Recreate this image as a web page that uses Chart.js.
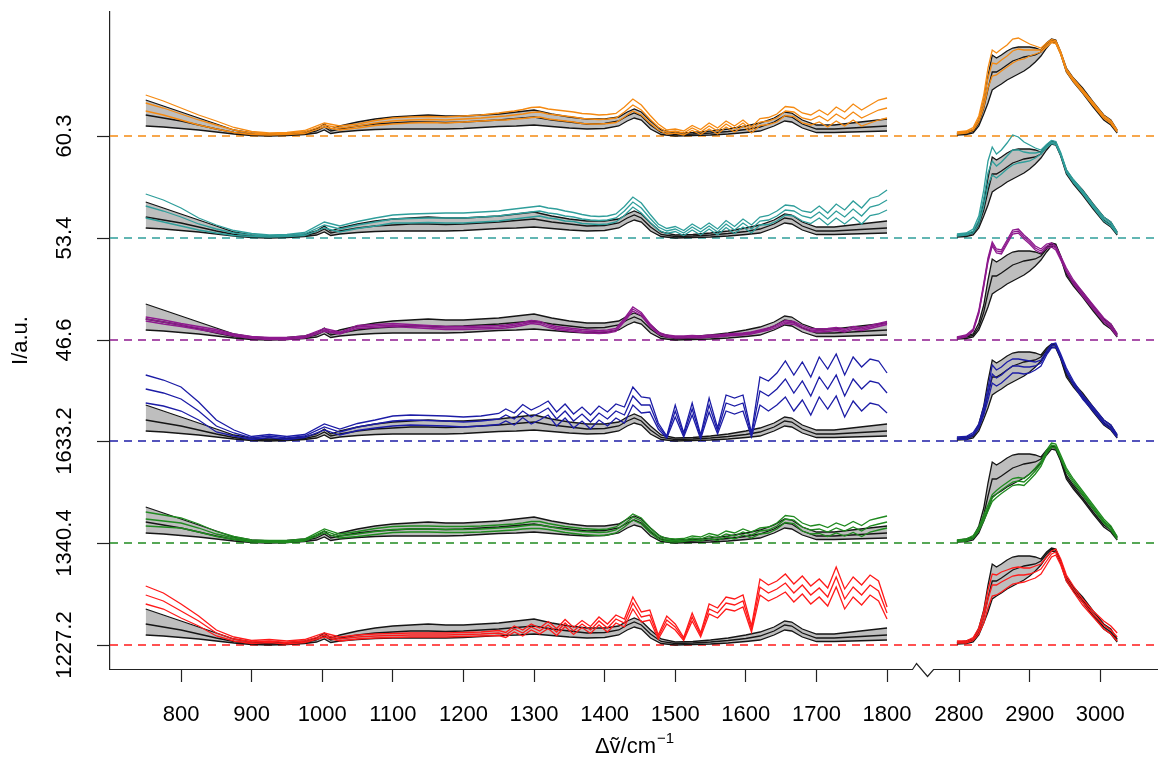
<!DOCTYPE html>
<html>
<head>
<meta charset="utf-8">
<script src="https://cdn.jsdelivr.net/npm/chart.js@4.4.0/dist/chart.umd.min.js"></script>
<style>
  html, body { margin: 0; padding: 0; background: #fff; }
  canvas { display: block; }
</style>
</head>
<body>
<canvas id="spectra" width="1162" height="763"></canvas>
<script>
// Wavenumber grids (cm^-1)
const xBandL = [750, 775, 800, 825, 850, 875, 900, 925, 950, 975, 992, 1003, 1012,
  1025, 1050, 1075, 1100, 1125, 1150, 1175, 1200, 1225, 1250, 1275, 1300, 1325, 1350, 1375, 1400,
  1420, 1432, 1442, 1452, 1465, 1480, 1500, 1525, 1550, 1575, 1600,
  1620, 1640, 1655, 1665, 1680, 1700, 1725, 1750, 1775, 1800];
const xColL = [750, 775, 800, 825, 850, 875, 900, 925, 950, 975, 1003,
  1025, 1050, 1075, 1100, 1125, 1150, 1175, 1200, 1225, 1250,
  1260, 1272, 1284, 1296, 1308, 1320, 1332, 1344, 1356, 1368, 1380, 1392, 1404, 1416, 1428,
  1440, 1452, 1464, 1476, 1488, 1500, 1512, 1524, 1536, 1548, 1560, 1572, 1584, 1596,
  1608, 1620, 1632, 1644, 1656, 1668, 1680, 1692, 1704, 1716, 1728, 1740, 1752, 1764, 1776, 1788, 1800];
const xR = [2797, 2810, 2820, 2828, 2835, 2841, 2847, 2853, 2860, 2868, 2876, 2884, 2892, 2900,
  2908, 2916, 2924, 2931, 2937, 2944, 2952, 2962, 2975, 2990, 3005, 3015, 3024];

// Reference class: upper, mean and lower spectra (grey band)
const bandHiL = [36, 30, 24, 18, 12, 6, 3, 2, 2.5, 4, 7, 12, 7,
  10, 14, 17, 19, 20, 21, 20, 20, 21, 22, 24, 26, 22, 19, 17, 17,
  19, 24, 27, 24, 15, 6, 3, 3.5, 5, 7, 10,
  13, 18, 24, 23, 16, 11, 11, 13, 15, 17];
const bandMidL = [21, 18, 15, 11, 7, 3.5, 1.5, 1, 1.5, 2.5, 5, 9, 5,
  7, 10, 12, 13, 14, 14, 13.5, 14, 15, 16, 17.5, 19, 16, 14, 12, 12.5,
  15, 20, 23, 20, 11, 3.5, 1.5, 2, 3, 4.5, 6.5,
  9, 14, 20, 19, 12, 7, 7, 8, 9, 10];
const bandLoL = [10, 9, 7.5, 6, 4, 2, 0.5, 0, 0.5, 1.5, 3, 6, 2.5,
  4, 5.5, 6.5, 7, 7, 7, 7, 7.5, 8.5, 9.5, 10, 11, 9.5, 8, 7, 7.5,
  10, 15, 18, 16, 7, 1.5, 0, 0.5, 1, 2, 3.5,
  5, 10, 15, 14, 8, 3.5, 3.5, 4, 4.5, 5];
const bandHiR = [2.7, 4, 6, 17, 35, 60, 81, 78, 81, 85, 88, 89, 89, 89, 88, 86, 93, 97, 96, 84, 68, 58, 48, 34, 21, 16, 6];
const bandMidR = [2, 3, 4.5, 13, 28, 47, 64, 64, 67, 71, 75, 77, 79, 80, 81, 84, 91, 96, 95, 83, 66, 56, 45, 31, 18, 13, 4.5];
const bandLoR = [1, 1.5, 3, 10, 22, 33, 46, 49, 52, 56, 59, 62, 65, 69, 74, 80, 88, 94, 93, 82, 64, 54, 43, 29, 16, 11, 3];

// Sample classes: mean spectrum and spread (fingerprint range, then CH range)
const redMidL = [50, 44, 34, 24, 12, 6, 3, 4, 2.5, 4, 10, 6, 8, 9, 9.5, 10, 10, 10, 10.5, 11, 12,
  10, 16, 12, 18, 14, 20, 13, 22, 14, 21, 15, 24, 17, 26, 22,
  42, 28, 30, 8, 25, 18, 6, 28, 10, 36, 32, 42, 40, 44,
  16, 58, 52, 56, 62, 52, 60, 50, 57, 48, 68, 46, 58, 50, 60, 54, 32];
const redSprL = [9, 8, 7, 5, 3, 2, 1.5, 1.5, 1.5, 1.5, 2, 2, 2, 2, 2, 2, 2, 2, 2, 2, 2.5,
  2.5, 3, 3, 3, 3, 3.5, 3.5, 3.5, 3.5, 3.5, 3.5, 4, 4, 4, 4,
  6, 5, 5, 2, 4, 3, 1.5, 4, 2, 5, 5, 6, 6, 6,
  3, 8, 8, 8, 9, 9, 9, 9, 9, 9, 10, 10, 10, 10, 10, 10, 6];
const redMidR = [3, 3, 6, 14, 28, 46, 60, 60, 63, 66, 69, 70, 70, 71, 73, 76, 84, 91, 93, 83, 67, 56, 43, 31, 20, 15, 8];
const redSprR = [1, 1, 1.5, 3, 6, 9, 11, 10, 10, 9, 8, 8, 7, 6, 6, 5, 4, 3, 3, 3, 3, 3, 3, 3, 4, 4, 4];

const greenMidL = [24, 22, 20, 15, 9, 5, 2, 1.5, 1.5, 3, 12, 7, 9, 11.5, 13.5, 14, 14, 13.5, 13.5, 14, 15,
  15.5, 16, 17, 18, 18, 16.5, 15, 13.5, 12.5, 11.5, 11, 10.5, 11, 13, 19,
  26, 22, 13, 6, 3, 2.5, 3, 5, 4, 7, 5, 9, 7, 11,
  8, 12, 13, 17, 24, 23, 16, 13, 14, 11, 15, 12, 16, 12, 17, 19, 21];
const greenSprL = [7, 6, 5, 4, 2.5, 1.5, 1, 1, 1, 1, 2, 2, 2.5, 3, 3, 3, 3, 3, 3, 3, 3,
  3, 3, 3, 3.5, 3.5, 3, 3, 3, 3, 3, 3, 3, 3, 3, 3,
  3, 3, 2.5, 2, 1.5, 1.5, 1.5, 2, 2, 2.5, 2.5, 3, 3, 3,
  3, 3, 3, 3, 3.5, 3.5, 4, 4, 4.5, 4.5, 5, 5, 5.5, 5.5, 6, 6, 6];
const greenMidR = [2, 3, 6, 14, 25, 35, 45, 49, 53, 57, 61, 62, 61, 66, 72, 79, 91, 98, 97, 86, 73, 62, 50, 36, 22, 15, 5];
const greenSprR = [1, 1, 1.5, 2, 3, 3, 3.5, 3.5, 3.5, 3.5, 3.5, 3.5, 3.5, 3, 3, 2.5, 2, 2, 2, 2, 2, 2, 2, 2, 2, 2, 1.5];

const blueMidL = [52, 48, 42, 30, 15, 8, 3, 5, 3, 5, 14, 9, 14, 17, 20, 21, 20.5, 20, 19, 20, 22,
  26, 22, 30, 24, 28, 33, 22, 30, 20, 27, 19, 28, 22, 30, 26,
  45, 36, 36, 15, 4, 30, 6, 32, 4, 36, 10, 38, 35, 38,
  6, 50, 45, 52, 62, 48, 60, 45, 64, 52, 66, 45, 62, 52, 60, 58, 48];
const blueSprL = [14, 13, 12, 9, 6, 3, 1.5, 1.5, 1.5, 1.5, 3, 3, 3.5, 4, 5, 5, 5, 5, 5, 5, 5.5,
  6, 6, 6.5, 7, 7, 7, 7, 7, 7, 7, 7, 7, 7, 7, 8,
  9, 8, 7, 3, 1, 6, 2, 6, 2, 7, 3, 8, 8, 8,
  2, 14, 15, 16, 18, 18, 19, 19, 20, 20, 21, 21, 22, 22, 22, 22, 20];
const blueMidR = [3, 3, 7, 15, 30, 47, 67, 63, 66, 71, 75, 75, 74, 74, 75, 78, 88, 95, 96, 85, 71, 58, 44, 32, 19, 14, 5];
const blueSprR = [1, 1.5, 1.5, 2, 4, 6, 9, 8, 8, 8, 7, 7, 7, 6, 4, 3, 2, 2, 2, 2, 2, 2, 2, 2, 2, 2, 1.5];

const purpleMidL = [21, 18, 15, 12, 9, 5, 2.5, 1.5, 1.5, 3, 10, 7, 13, 14, 15, 14, 13, 12, 12, 12.5, 13,
  13.5, 14.5, 16, 18, 17, 14, 12, 11, 10, 9, 8.5, 8, 8.5, 10, 20,
  31, 26, 15, 7, 4, 3, 3, 3.5, 3, 4, 4, 5, 5.5, 6,
  7, 9, 11, 14, 18, 17, 13, 10, 9.5, 10, 11, 9.5, 12, 11, 13, 15, 17];
const purpleSprL = [2, 2, 1.5, 1.5, 1.5, 1, 1, 1, 1, 1, 1.5, 1, 1.5, 1.5, 1.5, 1.5, 1.5, 1.5, 1.5, 1.5, 1.5,
  1.5, 1.5, 1.5, 1.5, 1.5, 1.5, 1.5, 1.5, 1.5, 1.5, 1.5, 1.5, 1.5, 1.5, 1.5,
  2, 1.5, 1.5, 1, 1, 1, 1, 1, 1, 1, 1, 1, 1, 1,
  1, 1, 1, 1.5, 1.5, 1.5, 1.5, 1.5, 1.5, 1.5, 1.5, 1.5, 1.5, 1.5, 1.5, 1.5, 1.5];
const purpleMidR = [2, 4, 10, 28, 55, 80, 96, 89, 88, 98, 108, 109, 103, 98, 92, 89, 94, 95, 92, 82, 70, 58, 46, 33, 20, 14, 5];
const purpleSprR = [1, 1, 1, 1.5, 2, 2, 2, 2, 2, 2, 2, 2, 2, 2, 2, 2, 2, 2, 2, 2, 2, 2, 2, 2, 2, 2, 1.5];

const tealMidL = [32, 27, 21, 14, 9, 5, 3, 2, 2.5, 4, 13, 9, 13, 16, 19, 19.5, 20, 20, 20, 21, 22,
  23, 24, 25, 26, 27, 25, 24, 22, 21, 19, 18, 17.5, 18, 20, 27,
  36, 30, 20, 11, 7, 9, 5, 11, 6, 12, 6, 14, 8, 15,
  9, 17, 18, 22, 28, 27, 22, 20, 26, 19, 27, 21, 29, 22, 31, 33, 38];
const tealSprL = [12, 11, 9, 6, 4, 2.5, 1.5, 1, 1, 1.5, 3, 3, 3.5, 4, 4, 4.5, 4.5, 5, 5, 5, 5,
  5, 5, 5, 5, 5, 5, 5, 5, 4.5, 4.5, 4, 4, 4, 4, 4.5,
  5, 5, 4, 3, 2.5, 2.5, 2.5, 3, 3, 3, 3, 3.5, 3.5, 4,
  4, 4, 4.5, 5, 5, 5, 5, 5.5, 6, 6, 7, 7, 8, 8, 8.5, 9, 10];
const tealMidR = [3, 4, 7, 18, 40, 65, 77, 72, 76, 82, 88, 88, 86, 85, 85, 86, 92, 96, 95, 84, 67, 57, 46, 32, 19, 14, 5];
const tealSprR = [1, 1, 2, 4, 8, 12, 14, 12, 12, 13, 15, 13, 10, 8, 5, 2, 1.5, 1.5, 1.5, 1.5, 1.5, 1.5, 1.5, 1.5, 2, 2, 1];

const orangeMidL = [33, 28, 22, 16, 11, 6, 3, 2, 2.5, 4, 11, 8, 10, 13, 15, 16, 16.5, 16, 17, 18, 19.5,
  20, 21, 22, 23.5, 24, 22, 21, 20, 19, 17.5, 17, 16.5, 17, 18, 24,
  31, 26, 17, 9, 4, 5, 3, 8, 4, 10, 5, 12, 7, 13,
  6, 14, 15, 18, 25, 24, 18, 16, 20, 15, 22, 17, 24, 18, 22, 26, 28];
const orangeSprL = [8, 7, 6, 5, 4, 2.5, 1.5, 1, 1, 1.5, 2, 2, 2, 2.5, 3, 3, 3, 3, 3, 3, 3.5,
  4, 4, 4.5, 5, 5, 5, 5, 5, 5, 5, 5, 4.5, 4.5, 4.5, 5,
  6, 5, 4, 3, 2, 2, 2, 2.5, 2.5, 3, 3, 3, 3, 3,
  3, 3.5, 3.5, 4, 4.5, 4.5, 5, 5, 6, 6, 7, 7, 8, 8, 9, 10, 10];
const orangeMidR = [3, 4, 7, 17, 35, 58, 73, 72, 76, 80, 85, 87, 86, 86, 86, 86, 91, 95, 94, 83, 66, 56, 45, 32, 19, 14, 5];
const orangeSprR = [1, 1, 1.5, 3, 6, 10, 13, 11, 11, 11, 12, 11, 9, 6, 4, 2, 2, 1.5, 1.5, 1.5, 1.5, 1.5, 1.5, 1.5, 1.5, 1.5, 1];

// Stack offsets (bottom to top) and the labels written at each baseline
const baselines = [0, 102, 204, 305, 407, 509];
const yTickLabels = ["1227.2", "1340.4", "1633.2", "46.6", "53.4", "60.3"];
const groupColors = ["#ff1a1a", "#1f8a1f", "#1c1ca6", "#8e1a8e", "#2f9e9b", "#f58a12"];
const xTickVals = [800, 900, 1000, 1100, 1200, 1300, 1400, 1500, 1600, 1700, 1800, 2800, 2900, 3000];

const groups = [
  [redMidL, redSprL, redMidR, redSprR],
  [greenMidL, greenSprL, greenMidR, greenSprR],
  [blueMidL, blueSprL, blueMidR, blueSprR],
  [purpleMidL, purpleSprL, purpleMidR, purpleSprR],
  [tealMidL, tealSprL, tealMidR, tealSprR],
  [orangeMidL, orangeSprL, orangeMidR, orangeSprR],
];

// broken x axis: 1800 .. 2800 is squeezed into a short gap
const GAP = 102;
const BREAK_AT = 1851;
function pos(w) {
  return w <= 1800 ? w : w - 2800 + 1800 + GAP;
}
const X_MIN = 699.4;
const X_MAX = 2183.8;

function pts(xs, ys, base) {
  return xs.map((w, i) => ({ x: pos(w), y: base + ys[i] }));
}

function lineSet(data, color, extra) {
  return Object.assign({
    data: data,
    borderColor: color,
    borderWidth: 1.3,
    pointRadius: 0,
    tension: 0,
    fill: false,
  }, extra || {});
}

const datasets = [];
groups.forEach((g, k) => {
  const base = baselines[k];
  const col = groupColors[k];

  // dashed baseline across the whole plot
  datasets.push(lineSet([{ x: X_MIN, y: base }, { x: X_MAX, y: base }], col,
    { borderDash: [8, 6], borderWidth: 1.6, order: 3 }));

  // grey reference band with its border and mean spectra
  [[xBandL, bandHiL, bandMidL, bandLoL], [xR, bandHiR, bandMidR, bandLoR]].forEach(([xs, hi, mid, lo]) => {
    const i0 = datasets.length;
    datasets.push(lineSet(pts(xs, hi, base), "#151515", { fill: i0 + 1, backgroundColor: "#bebebe", order: 2 }));
    datasets.push(lineSet(pts(xs, lo, base), "#151515", { order: 2 }));
    datasets.push(lineSet(pts(xs, mid, base), "#151515", { order: 2 }));
  });

  // sample class: mean and mean +/- spread
  const [midL, sprL, midR, sprR] = g;
  [-1, 0, 1].forEach(s => {
    datasets.push(lineSet(xColL.map((w, i) => ({ x: pos(w), y: base + midL[i] + s * sprL[i] })), col, { order: 1 }));
    datasets.push(lineSet(xR.map((w, i) => ({ x: pos(w), y: base + midR[i] + s * sprR[i] })), col, { order: 1 }));
  });
});

const FONT = '"Liberation Sans", Arial, sans-serif';

// axis line with break mark, rotated y labels and axis titles
const axisDecor = {
  id: "axisDecor",
  afterDraw(chart) {
    const { ctx, chartArea, scales } = chart;
    const x = scales.x, y = scales.y;
    ctx.save();
    const yb = chartArea.bottom + 0.5;
    const xb = x.getPixelForValue(BREAK_AT);
    ctx.strokeStyle = "#222";
    ctx.lineWidth = 1.2;
    ctx.beginPath();
    ctx.moveTo(chartArea.left, yb);
    ctx.lineTo(xb - 10.5, yb);
    ctx.lineTo(xb - 6.5, yb - 6);
    ctx.lineTo(xb + 4.5, yb + 7);
    ctx.lineTo(xb + 10.5, yb);
    ctx.lineTo(chartArea.right, yb);
    ctx.stroke();

    ctx.fillStyle = "#000";
    ctx.font = "22px " + FONT;
    ctx.textAlign = "center";
    ctx.textBaseline = "middle";
    baselines.forEach((b, i) => {
      ctx.save();
      ctx.translate(65, y.getPixelForValue(b));
      ctx.rotate(-Math.PI / 2);
      ctx.fillText(yTickLabels[i], 0, 0);
      ctx.restore();
    });

    ctx.save();
    ctx.translate(21, (chartArea.top + chartArea.bottom) / 2);
    ctx.rotate(-Math.PI / 2);
    ctx.fillText("I/a.u.", 0, 0);
    ctx.restore();

    // x title: Δṽ/cm^-1
    const main = "\u0394\u1E7D/cm";
    const sup = "\u22121";
    ctx.font = "22px " + FONT;
    const w1 = ctx.measureText(main).width;
    ctx.font = "15px " + FONT;
    const w2 = ctx.measureText(sup).width;
    const cx = (chartArea.left + chartArea.right) / 2;
    const left = cx - (w1 + w2) / 2;
    const ty = 745;
    ctx.textAlign = "left";
    ctx.textBaseline = "alphabetic";
    ctx.font = "22px " + FONT;
    ctx.fillText(main, left, ty + 8);
    ctx.font = "15px " + FONT;
    ctx.fillText(sup, left + w1 + 1, ty - 2);
    ctx.restore();
  }
};

new Chart(document.getElementById("spectra"), {
  type: "line",
  data: { datasets: datasets },
  options: {
    responsive: false,
    animation: false,
    devicePixelRatio: 1,
    layout: { padding: { top: 12, right: 4, left: 0, bottom: 0 } },
    plugins: {
      legend: { display: false },
      tooltip: { enabled: false },
      filler: { drawTime: "beforeDatasetsDraw" },
    },
    scales: {
      x: {
        type: "linear",
        min: X_MIN,
        max: X_MAX,
        afterBuildTicks: s => { s.ticks = xTickVals.map(v => ({ value: pos(v) })); },
        afterFit: s => { s.height = 94; },
        ticks: {
          autoSkip: false,
          maxRotation: 0,
          minRotation: 0,
          padding: 20,
          color: "#000",
          font: { family: FONT, size: 22 },
          callback: (v, i) => String(xTickVals[i]),
        },
        grid: { drawOnChartArea: false, drawTicks: true, tickLength: 13, tickColor: "#222", tickWidth: 1.2 },
        border: { display: false },
      },
      y: {
        type: "linear",
        min: -24,
        max: 633,
        afterBuildTicks: s => { s.ticks = baselines.map(v => ({ value: v })); },
        afterFit: s => { s.width = 110; },
        ticks: { display: false },
        grid: { drawOnChartArea: false, drawTicks: true, tickLength: 13, tickColor: "#222", tickWidth: 1.2 },
        border: { display: true, color: "#222", width: 1.2 },
      },
    },
  },
  plugins: [axisDecor],
});
</script>
</body>
</html>
